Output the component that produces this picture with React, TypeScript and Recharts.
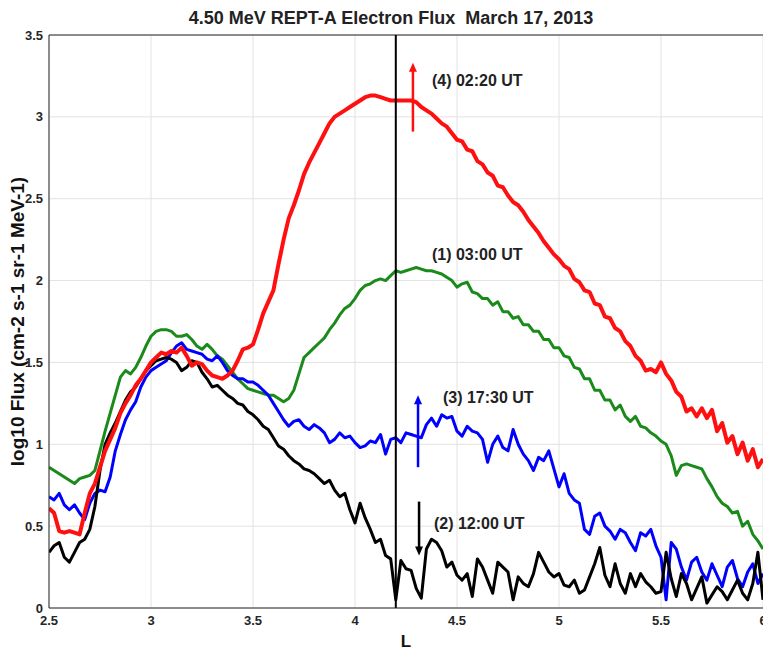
import { LineChart, Line, XAxis, YAxis, CartesianGrid, ReferenceLine, ReferenceDot } from 'recharts';

// L shell sample points
const L_VALUES = [
  2.5, 2.525, 2.55, 2.575, 2.6, 2.625, 2.65, 2.675, 2.7, 2.725,
  2.75, 2.775, 2.8, 2.825, 2.85, 2.875, 2.9, 2.925, 2.95, 2.975,
  3.0, 3.025, 3.05, 3.075, 3.1, 3.125, 3.15, 3.175, 3.2, 3.225,
  3.25, 3.275, 3.3, 3.325, 3.35, 3.375, 3.4, 3.425, 3.45, 3.475,
  3.5, 3.525, 3.55, 3.575, 3.6, 3.625, 3.65, 3.675, 3.7, 3.725,
  3.75, 3.775, 3.8, 3.825, 3.85, 3.875, 3.9, 3.925, 3.95, 3.975,
  4.0, 4.025, 4.05, 4.075, 4.1, 4.125, 4.15, 4.175, 4.2, 4.225,
  4.25, 4.275, 4.3, 4.325, 4.35, 4.375, 4.4, 4.425, 4.45, 4.475,
  4.5, 4.525, 4.55, 4.575, 4.6, 4.625, 4.65, 4.675, 4.7, 4.725,
  4.75, 4.775, 4.8, 4.825, 4.85, 4.875, 4.9, 4.925, 4.95, 4.975,
  5.0, 5.025, 5.05, 5.075, 5.1, 5.125, 5.15, 5.175, 5.2, 5.225,
  5.25, 5.275, 5.3, 5.325, 5.35, 5.375, 5.4, 5.425, 5.45, 5.475,
  5.5, 5.525, 5.55, 5.575, 5.6, 5.625, 5.65, 5.675, 5.7, 5.725,
  5.75, 5.775, 5.8, 5.825, 5.85, 5.875, 5.9, 5.925, 5.95, 5.975,
  6.0,
];

// (1) 03:00 UT
const FLUX_0300 = [
  0.86, 0.84, 0.82, 0.80, 0.78, 0.76, 0.79, 0.80, 0.81, 0.84,
  0.96, 1.08, 1.19, 1.30, 1.41, 1.45, 1.43, 1.47, 1.53, 1.60,
  1.66, 1.69, 1.70, 1.70, 1.69, 1.66, 1.66, 1.67, 1.64, 1.60,
  1.58, 1.61, 1.58, 1.54, 1.52, 1.48, 1.44, 1.40, 1.37, 1.34,
  1.33, 1.32, 1.31, 1.30, 1.30, 1.28, 1.26, 1.28, 1.33, 1.43,
  1.53, 1.56, 1.59, 1.62, 1.65, 1.70, 1.74, 1.79, 1.83, 1.85,
  1.89, 1.94, 1.97, 1.98, 2.00, 2.01, 2.00, 2.03, 2.06, 2.05,
  2.06, 2.07, 2.08, 2.07, 2.06, 2.06, 2.05, 2.04, 2.02, 2.00,
  1.96, 1.98, 1.99, 1.93, 1.92, 1.89, 1.89, 1.85, 1.87, 1.81,
  1.81, 1.77, 1.78, 1.73, 1.73, 1.69, 1.69, 1.64, 1.64, 1.59,
  1.59, 1.54, 1.53, 1.47, 1.46, 1.40, 1.40, 1.33, 1.33, 1.27,
  1.27, 1.21, 1.24, 1.17, 1.14, 1.17, 1.11, 1.10, 1.07, 1.05,
  1.02, 1.00, 0.93, 0.81, 0.87, 0.88, 0.87, 0.86, 0.85, 0.79,
  0.74, 0.68, 0.64, 0.62, 0.58, 0.59, 0.50, 0.53, 0.45, 0.41,
  0.36,
];

// (2) 12:00 UT
const FLUX_1200 = [
  0.34, 0.38, 0.40, 0.31, 0.28, 0.34, 0.40, 0.42, 0.48, 0.62,
  0.84, 1.00, 1.07, 1.13, 1.20, 1.27, 1.32, 1.35, 1.40, 1.45,
  1.48, 1.51, 1.52, 1.53, 1.52, 1.50, 1.45, 1.47, 1.51, 1.50,
  1.44, 1.40, 1.35, 1.36, 1.33, 1.30, 1.28, 1.25, 1.24, 1.20,
  1.18, 1.15, 1.11, 1.09, 1.04, 0.99, 0.97, 0.93, 0.90, 0.88,
  0.85, 0.84, 0.82, 0.79, 0.76, 0.78, 0.72, 0.68, 0.70, 0.60,
  0.52, 0.64, 0.55, 0.48, 0.40, 0.42, 0.32, 0.30, 0.05, 0.29,
  0.24, 0.23, 0.12, 0.06, 0.36, 0.42, 0.40, 0.35, 0.25, 0.28,
  0.20, 0.17, 0.21, 0.07, 0.30, 0.25, 0.17, 0.09, 0.28, 0.25,
  0.22, 0.05, 0.19, 0.15, 0.13, 0.21, 0.34, 0.28, 0.22, 0.19,
  0.21, 0.14, 0.13, 0.17, 0.09, 0.11, 0.19, 0.27, 0.37, 0.20,
  0.13, 0.27, 0.15, 0.09, 0.21, 0.13, 0.21, 0.16, 0.13, 0.09,
  0.10, 0.34, 0.18, 0.07, 0.21, 0.15, 0.05, 0.12, 0.19, 0.03,
  0.08, 0.13, 0.10, 0.05, 0.11, 0.17, 0.09, 0.05, 0.15, 0.34,
  0.05,
];

// (3) 17:30 UT
const FLUX_1730 = [
  0.68, 0.66, 0.70, 0.63, 0.60, 0.63, 0.58, 0.54, 0.64, 0.70,
  0.72, 0.71, 0.80, 0.96, 1.06, 1.15, 1.21, 1.26, 1.35, 1.41,
  1.45, 1.47, 1.49, 1.51, 1.56, 1.60, 1.62, 1.58, 1.57, 1.56,
  1.55, 1.52, 1.51, 1.54, 1.50, 1.45, 1.42, 1.40, 1.40, 1.38,
  1.38, 1.36, 1.33, 1.30, 1.25, 1.20, 1.15, 1.11, 1.14, 1.15,
  1.11, 1.09, 1.12, 1.10, 1.07, 1.01, 1.03, 1.07, 1.04, 1.05,
  1.01, 0.98, 0.99, 1.02, 1.01, 1.06, 0.94, 1.03, 1.04, 1.01,
  1.07, 1.06, 1.05, 1.04, 1.12, 1.16, 1.11, 1.18, 1.16, 1.17,
  1.08, 1.05, 1.11, 1.08, 1.07, 1.03, 0.89, 1.00, 1.05, 0.98,
  0.96, 1.09, 1.00, 0.94, 0.90, 0.84, 0.92, 0.90, 0.96, 0.85,
  0.74, 0.82, 0.70, 0.66, 0.64, 0.48, 0.45, 0.56, 0.58, 0.50,
  0.47, 0.42, 0.48, 0.46, 0.40, 0.35, 0.46, 0.44, 0.48, 0.38,
  0.31, 0.05, 0.40, 0.36, 0.25, 0.17, 0.28, 0.31, 0.22, 0.17,
  0.27, 0.20, 0.13, 0.25, 0.29, 0.18, 0.13, 0.22, 0.27, 0.15,
  0.21,
];

// (4) 02:20 UT
const FLUX_0220 = [
  0.61, 0.58, 0.47, 0.46, 0.47, 0.46, 0.45, 0.58, 0.70, 0.76,
  0.86, 0.96, 1.03, 1.10, 1.19, 1.25, 1.30, 1.36, 1.40, 1.45,
  1.50, 1.53, 1.56, 1.55, 1.57, 1.56, 1.59, 1.54, 1.48, 1.50,
  1.49, 1.45, 1.42, 1.41, 1.40, 1.42, 1.45, 1.51, 1.58, 1.59,
  1.61, 1.70, 1.80, 1.87, 1.94, 2.10, 2.25, 2.38, 2.46, 2.55,
  2.65, 2.72, 2.78, 2.84, 2.90, 2.96, 3.00, 3.02, 3.04, 3.06,
  3.08, 3.10, 3.12, 3.13, 3.13, 3.12, 3.11, 3.10, 3.10, 3.10,
  3.10, 3.10, 3.09, 3.06, 3.04, 3.02, 2.99, 2.96, 2.94, 2.90,
  2.86, 2.85, 2.80, 2.79, 2.73, 2.71, 2.66, 2.64, 2.58, 2.57,
  2.52, 2.48, 2.46, 2.42, 2.37, 2.33, 2.29, 2.24, 2.20, 2.16,
  2.13, 2.09, 2.07, 2.01, 1.99, 1.94, 1.93, 1.86, 1.85, 1.78,
  1.77, 1.71, 1.69, 1.63, 1.60, 1.54, 1.51, 1.45, 1.46, 1.44,
  1.50, 1.43, 1.39, 1.32, 1.29, 1.20, 1.22, 1.17, 1.22, 1.16,
  1.21, 1.08, 1.13, 1.01, 1.05, 0.94, 1.01, 0.90, 0.97, 0.86,
  0.91,
];

const X_TICKS = [2.5, 3, 3.5, 4, 4.5, 5, 5.5, 6];
const Y_TICKS = [0, 0.5, 1, 1.5, 2, 2.5, 3, 3.5];

const MARKER_L = 4.2;

const FONT = "'Liberation Sans', Arial, Helvetica, sans-serif";
const INK = '#262626';

const data = L_VALUES.map((l, i) => ({
  L: l,
  f0300: FLUX_0300[i],
  f1200: FLUX_1200[i],
  f1730: FLUX_1730[i],
  f0220: FLUX_0220[i],
}));

// vertical arrow, head drawn at (x2, y2)
const Arrow = (props: any) => {
  const { x1, y1, x2, y2, stroke } = props;
  const dir = y2 < y1 ? -1 : 1;
  const head = 9;
  const half = 4;
  return (
    <g>
      <line x1={x1} y1={y1} x2={x2} y2={y2 - dir * head * 0.6} stroke={stroke} strokeWidth={2.5} />
      <polygon
        points={`${x2},${y2} ${x2 - half},${y2 - dir * head} ${x2 + half},${y2 - dir * head}`}
        fill={stroke}
      />
    </g>
  );
};

const noteLabel = (text: string) => (props: any) => (
  <text
    x={props.cx}
    y={props.cy}
    dominantBaseline="central"
    fontFamily={FONT}
    fontWeight="bold"
    fontSize={16}
    fill="#222"
  >
    {text}
  </text>
);

export default function App() {
  return (
    <div
      style={{
        position: 'absolute',
        left: 0,
        top: 0,
        width: 763,
        height: 653,
        background: '#fff',
        overflow: 'hidden',
        fontFamily: FONT,
      }}
    >
      <div
        style={{
          position: 'absolute',
          left: 0,
          top: 9,
          width: 782,
          textAlign: 'center',
          fontSize: 18,
          lineHeight: '18px',
          fontWeight: 'bold',
          color: '#222',
          whiteSpace: 'pre',
        }}
      >
        {'4.50 MeV REPT-A Electron Flux  March 17, 2013'}
      </div>
      <LineChart
        width={763}
        height={653}
        data={data}
        margin={{ top: 35, right: 0, bottom: 0, left: 0 }}
        style={{ position: 'absolute', left: 0, top: 0 }}
      >
        <CartesianGrid stroke="#e2e2e2" />
        <XAxis
          dataKey="L"
          type="number"
          domain={[2.5, 6]}
          ticks={X_TICKS}
          interval={0}
          allowDataOverflow
          height={45}
          tickSize={0}
          tickMargin={8}
          stroke={INK}
          tick={{ fill: INK, fontSize: 13, fontWeight: 'bold', fontFamily: FONT }}
          label={{ value: 'L', position: 'insideBottom', offset: 6, fill: '#111', fontSize: 17, fontWeight: 'bold', fontFamily: FONT }}
        />
        <YAxis
          type="number"
          domain={[0, 3.5]}
          ticks={Y_TICKS}
          interval={0}
          allowDataOverflow
          width={49}
          tickSize={0}
          tickMargin={6}
          stroke={INK}
          tick={{ fill: INK, fontSize: 13, fontWeight: 'bold', fontFamily: FONT }}
          label={{
            value: 'log10 Flux (cm-2 s-1 sr-1 MeV-1)',
            angle: -90,
            position: 'insideLeft',
            offset: 17,
            fill: '#111',
            fontSize: 19,
            fontWeight: 'bold',
            fontFamily: FONT,
            style: { textAnchor: 'middle' },
          }}
        />
        <ReferenceLine y={3.5} stroke={INK} strokeWidth={1} />

        <Line dataKey="f0300" stroke="#1a8a1a" strokeWidth={3} dot={false} isAnimationActive={false} strokeLinejoin="round" />
        <Line dataKey="f1730" stroke="#0000ff" strokeWidth={3} dot={false} isAnimationActive={false} strokeLinejoin="round" />
        <Line dataKey="f1200" stroke="#000000" strokeWidth={3} dot={false} isAnimationActive={false} strokeLinejoin="round" />
        <Line dataKey="f0220" stroke="#ff1010" strokeWidth={4} dot={false} isAnimationActive={false} strokeLinejoin="round" />

        <ReferenceLine x={MARKER_L} stroke="#000" strokeWidth={2} />

        <ReferenceLine segment={[{ x: 4.284, y: 2.91 }, { x: 4.284, y: 3.33 }]} stroke="#ff1010" shape={Arrow} />
        <ReferenceLine segment={[{ x: 4.309, y: 0.86 }, { x: 4.309, y: 1.3 }]} stroke="#0000ff" shape={Arrow} />
        <ReferenceLine segment={[{ x: 4.314, y: 0.65 }, { x: 4.314, y: 0.32 }]} stroke="#000000" shape={Arrow} />

        <ReferenceDot x={4.377} y={3.225} r={0} shape={noteLabel('(4) 02:20 UT')} />
        <ReferenceDot x={4.377} y={2.157} r={0} shape={noteLabel('(1) 03:00 UT')} />
        <ReferenceDot x={4.431} y={1.283} r={0} shape={noteLabel('(3) 17:30 UT')} />
        <ReferenceDot x={4.387} y={0.519} r={0} shape={noteLabel('(2) 12:00 UT')} />
      </LineChart>
    </div>
  );
}
